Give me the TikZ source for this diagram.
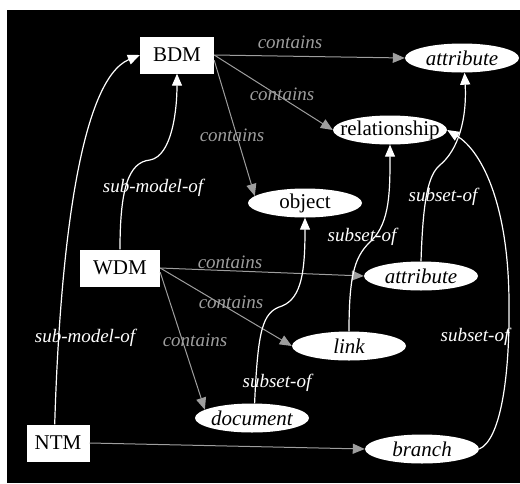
\documentclass[tikz,border=0pt]{standalone}
\usepackage{fontspec}
\setmainfont{Liberation Serif}
\newfontfamily\tnr{Liberation Serif}
\usetikzlibrary{arrows.meta,shapes.geometric}
\definecolor{cgray}{gray}{0.62}
\begin{document}
\begin{tikzpicture}[x=1pt,y=-1pt,
  box/.style={draw=none, fill=white, inner sep=0pt, minimum width=#1, minimum height=37pt, font=\tnr\fontsize{21}{24}\selectfont},
  ell/.style={ellipse, fill=white, inner sep=0pt, minimum width=114pt, minimum height=29pt, font=\tnr\fontsize{21}{24}\selectfont},
  contain/.style={draw=cgray, line width=1pt, -{Triangle[length=12pt,width=10pt,fill=cgray]}},
  subset/.style={draw=white, line width=1.2pt, -{Triangle[length=12pt,width=10pt,fill=white]}},
  graylbl/.style={font=\tnr\fontsize{19}{22}\selectfont\itshape, text=cgray, inner sep=0pt},
  whitelbl/.style={font=\tnr\fontsize{19}{22}\selectfont\itshape, text=white, inner sep=0pt},
]
\fill[white] (0,0) rectangle (520,483);
\fill[black] (7,10) rectangle (520,483);

% nodes
\node[box=74pt] (bdm) at (177,55) {BDM};
\node[box=80pt] (wdm) at (120,268) {WDM};
\node[box=63pt] (ntm) at (58,443) {NTM};
\node[ell] (attrT) at (462,58) {\makebox[0pt]{\itshape attribute}};
\node[ell] (rel) at (390,130) {\makebox[0pt]{relationship}};
\node[ell] (obj) at (305,203) {\makebox[0pt]{object}};
\node[ell] (attrM) at (421,276) {\makebox[0pt]{\itshape attribute}};
\node[ell] (link) at (349,346) {\makebox[0pt]{\itshape link}};
\node[ell] (doc) at (252,418) {\makebox[0pt]{\itshape document}};
\node[ell] (branch) at (422,449) {\makebox[0pt]{\itshape branch}};

% contains connectors
\draw[contain] (bdm.east) -- (attrT.west);
\draw[contain] (bdm.east) -- (rel.west);
\draw[contain] (bdm.-8) -- (obj.172);
\draw[contain] (wdm.east) -- (attrM.west);
\draw[contain] (wdm.east) -- (link.west);
\draw[contain] (wdm.-6) -- (doc.170);
\draw[contain] (ntm.east) -- (branch.west);

% sub-model-of connectors
\draw[subset] (wdm.north) .. controls (120,190) and (128,162) .. (150,160)
  .. controls (172,156) and (177,110) .. (bdm.south);
\draw[subset] (ntm.100) .. controls (60,250) and (80,80) .. (bdm.west);

% subset-of connectors
\draw[subset] (doc.80) .. controls (258,330) and (262,312) .. (282,306)
  .. controls (302,298) and (305,270) .. (obj.south);
\draw[subset] (link.north) .. controls (349,270) and (356,255) .. (372,240)
  .. controls (390,222) and (390,190) .. (rel.south);
\draw[subset] (attrM.north) .. controls (423,200) and (428,175) .. (440,165)
  .. controls (458,150) and (467,120) .. (attrT.-80);
\draw[subset] (branch.east) .. controls (500,440) and (510,380) .. (509,300)
  .. controls (508,200) and (480,150) .. (rel.east);

% labels
\node[graylbl] (l1) at (290,42) {contains};
\node[graylbl] (l2) at (282,94) {contains};
\node[graylbl] (l3) at (232,135) {contains};
\node[graylbl] (l4) at (230,262) {contains};
\node[graylbl] (l5) at (231,302) {contains};
\node[graylbl] (l6) at (195,340) {contains};
\node[whitelbl] (l7) at (153,188) {sub-model-of};
\node[whitelbl] (l8) at (85,338) {sub-model-of};
\node[whitelbl] (l9) at (277,383) {subset-of};
\node[whitelbl] (l10) at (362,237) {subset-of};
\node[whitelbl] (l11) at (443,197) {subset-of};
\node[whitelbl] (l12) at (475,337) {subset-of};
\end{tikzpicture}
\end{document}
